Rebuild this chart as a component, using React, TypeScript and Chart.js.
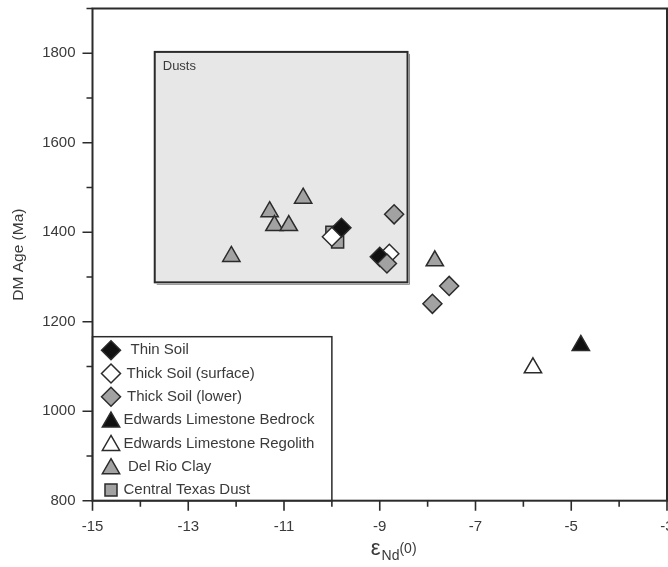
import React, { useEffect, useRef } from 'react';
import { Chart, registerables } from 'chart.js';
import { drawPoint } from 'chart.js/helpers';

Chart.register(...registerables);

// ---- data ----
const thinSoil = [
  { x: -9.8, y: 1410 },
  { x: -9.0, y: 1345 },
];
const thickSoilSurface = [
  { x: -10.0, y: 1390 },
  { x: -8.8, y: 1352 },
];
const thickSoilLower = [
  { x: -8.7, y: 1440 },
  { x: -8.85, y: 1330 },
  { x: -7.55, y: 1280 },
  { x: -7.9, y: 1240 },
];
const edwardsBedrock = [{ x: -4.8, y: 1147 }];
const edwardsRegolith = [{ x: -5.8, y: 1097 }];
const delRioClay = [
  { x: -12.1, y: 1346 },
  { x: -11.3, y: 1446 },
  { x: -11.2, y: 1415 },
  { x: -10.9, y: 1415 },
  { x: -10.6, y: 1476 },
  { x: -7.85, y: 1336 },
];
const centralTexasDust = [
  { x: -10.0, y: 1400 },
  { x: -9.88, y: 1378 },
];

const dustBoxX = [-13.7, -8.42];
const dustBoxY = [1288, 1803];
const dustLabel = 'Dusts';

const xRange = [-15, -3];
const yRange = [800, 1900];
const yTitle = 'DM Age (Ma)';

const FONT = "'Liberation Sans', Arial, Helvetica, sans-serif";
const INK = '#2b2b2b';
const TXT = '#3a3a3a';
const GRAY = '#a2a2a2';

const PLOT_RIGHT = 667;
const PLOT_TOP = 8.5;

type Series = {
  label: string;
  data: { x: number; y: number }[];
  style: string;
  fill: string;
  radius: number;
  orders: number[]; // draw order per point group (lower = on top)
  textOffset: number;
};

const series: Series[] = [
  { label: 'Thin Soil', data: thinSoil, style: 'rectRot', fill: '#111111', radius: 9.5, orders: [2], textOffset: 38 },
  { label: 'Thick Soil (surface)', data: thickSoilSurface, style: 'rectRot', fill: '#ffffff', radius: 9.5, orders: [1, 3], textOffset: 34 },
  { label: 'Thick Soil (lower)', data: thickSoilLower, style: 'rectRot', fill: GRAY, radius: 9.5, orders: [0], textOffset: 34.5 },
  { label: 'Edwards Limestone Bedrock', data: edwardsBedrock, style: 'triangle', fill: '#111111', radius: 10, orders: [5], textOffset: 31 },
  { label: 'Edwards Limestone Regolith', data: edwardsRegolith, style: 'triangle', fill: '#ffffff', radius: 10, orders: [6], textOffset: 31 },
  { label: 'Del Rio Clay', data: delRioClay, style: 'triangle', fill: GRAY, radius: 10, orders: [7], textOffset: 35.5 },
  { label: 'Central Texas Dust', data: centralTexasDust, style: 'rect', fill: GRAY, radius: 8.5, orders: [4], textOffset: 31 },
];

const TICK_FONT = `15px ${FONT}`;

const customPlugin = {
  id: 'customDecor',
  afterLayout(chart: any) {
    const ca = chart.chartArea;
    const x = chart.scales.x;
    const y = chart.scales.y;
    ca.right = PLOT_RIGHT;
    ca.width = ca.right - ca.left;
    ca.top = PLOT_TOP;
    ca.height = ca.bottom - ca.top;
    x.right = PLOT_RIGHT;
    x.width = x.right - x.left;
    x.configure();
    y.top = PLOT_TOP;
    y.height = y.bottom - y.top;
    y.configure();
  },
  beforeDatasetsDraw(chart: any) {
    const { ctx, scales } = chart;
    const x = scales.x;
    const y = scales.y;
    const l = x.getPixelForValue(dustBoxX[0]);
    const r = x.getPixelForValue(dustBoxX[1]);
    const t = y.getPixelForValue(dustBoxY[1]);
    const b = y.getPixelForValue(dustBoxY[0]);
    ctx.save();
    ctx.fillStyle = '#e7e7e7';
    ctx.fillRect(l, t, r - l, b - t);
    ctx.strokeStyle = '#8a8a8a';
    ctx.lineWidth = 1;
    ctx.beginPath();
    ctx.moveTo(l + 2, b + 2);
    ctx.lineTo(r + 2, b + 2);
    ctx.lineTo(r + 2, t + 2);
    ctx.stroke();
    ctx.strokeStyle = INK;
    ctx.lineWidth = 2;
    ctx.strokeRect(l, t, r - l, b - t);
    ctx.fillStyle = TXT;
    ctx.font = `13px ${FONT}`;
    ctx.textBaseline = 'middle';
    ctx.textAlign = 'left';
    ctx.fillText(dustLabel, l + 8, t + 15);
    ctx.restore();
  },
  afterDatasetsDraw(chart: any) {
    const { ctx, chartArea: ca, scales } = chart;
    const x = scales.x;
    const y = scales.y;
    ctx.save();

    // legend box
    const lr = x.getPixelForValue(-10);
    const lt = ca.bottom - 164;
    ctx.fillStyle = '#ffffff';
    ctx.fillRect(ca.left, lt, lr - ca.left, ca.bottom - lt);
    ctx.strokeStyle = INK;
    ctx.lineWidth = 1.5;
    ctx.strokeRect(ca.left, lt, lr - ca.left, ca.bottom - lt);
    series.forEach((s, i) => {
      const rowY = ca.bottom - 10.7 - (series.length - 1 - i) * 23.3;
      ctx.fillStyle = s.fill;
      ctx.strokeStyle = INK;
      ctx.lineWidth = 1.5;
      drawPoint(ctx, { pointStyle: s.style, radius: s.radius, rotation: 0, borderWidth: 1.5 } as any, ca.left + 18.5, rowY + (s.style === 'triangle' ? 2 : 0));
      ctx.fillStyle = TXT;
      ctx.font = `15px ${FONT}`;
      ctx.textBaseline = 'middle';
      ctx.textAlign = 'left';
      ctx.fillText(s.label, ca.left + s.textOffset, rowY);
    });

    // frame
    ctx.strokeStyle = INK;
    ctx.lineWidth = 2;
    ctx.strokeRect(ca.left, ca.top, ca.right - ca.left, ca.bottom - ca.top);

    // ticks
    ctx.lineWidth = 1.6;
    ctx.beginPath();
    for (let v = xRange[0]; v <= xRange[1]; v += 1) {
      const px = x.getPixelForValue(v);
      const len = Math.abs(v % 2) === 1 ? 10 : 6;
      ctx.moveTo(px, ca.bottom);
      ctx.lineTo(px, ca.bottom + len);
    }
    for (let v = yRange[0]; v <= yRange[1]; v += 100) {
      const py = y.getPixelForValue(v);
      const len = v % 200 === 0 ? 10 : 6;
      ctx.moveTo(ca.left, py);
      ctx.lineTo(ca.left - len, py);
    }
    ctx.stroke();

    // last x tick label (clipped by the canvas edge, as in the original)
    ctx.fillStyle = TXT;
    ctx.font = TICK_FONT;
    ctx.textAlign = 'center';
    ctx.textBaseline = 'middle';
    ctx.fillText(String(xRange[1]), x.getPixelForValue(xRange[1]), ca.bottom + 26);

    // x axis title: epsilon Nd(0)
    const cx = (ca.left + ca.right) / 2;
    let px = cx - 9;
    const base = ca.bottom + 54;
    ctx.textAlign = 'left';
    ctx.textBaseline = 'alphabetic';
    ctx.font = `22px ${FONT}`;
    ctx.fillText('ε', px, base);
    px += ctx.measureText('ε').width + 1;
    ctx.font = `14px ${FONT}`;
    ctx.fillText('Nd', px, base + 5);
    px += ctx.measureText('Nd').width;
    ctx.fillText('(0)', px, base - 2);

    ctx.restore();
  },
};

function buildDatasets() {
  const out: any[] = [];
  series.forEach((s) => {
    const groups: { x: number; y: number }[][] =
      s.orders.length === 1 ? [s.data] : s.data.map((p) => [p]);
    groups.forEach((g, gi) => {
      out.push({
        label: s.label,
        data: g,
        pointStyle: s.style as any,
        pointRadius: s.radius,
        pointHoverRadius: s.radius,
        pointBackgroundColor: s.fill,
        pointBorderColor: INK,
        pointBorderWidth: 1.5,
        order: s.orders[Math.min(gi, s.orders.length - 1)],
        showLine: false,
      });
    });
  });
  return out;
}

export default function App() {
  const ref = useRef<HTMLCanvasElement | null>(null);

  useEffect(() => {
    document.body.style.margin = '0';
    const canvas = ref.current;
    if (!canvas) return;
    const chart = new Chart(canvas, {
      type: 'scatter',
      data: { datasets: buildDatasets() },
      options: {
        animation: false,
        responsive: false,
        devicePixelRatio: 1,
        layout: { padding: { top: 7, right: 2, left: 0, bottom: 0 } },
        plugins: {
          legend: { display: false },
          tooltip: { enabled: false },
        },
        scales: {
          x: {
            type: 'linear',
            min: xRange[0],
            max: xRange[1],
            afterFit: (s: any) => {
              s.height = 66.3;
              s.paddingLeft = 0;
              s.paddingRight = 0;
            },
            border: { display: false },
            grid: { display: true, drawOnChartArea: false, drawTicks: true, tickLength: 10, tickColor: 'transparent' },
            ticks: {
              stepSize: 1,
              autoSkip: false,
              maxRotation: 0,
              padding: 7,
              color: TXT,
              font: { size: 15, family: FONT },
              callback: (v: any) => {
                const n = Number(v);
                return Math.abs(n % 2) === 1 && n !== xRange[1] ? String(v) : '';
              },
            },
          },
          y: {
            type: 'linear',
            min: yRange[0],
            max: yRange[1],
            afterFit: (s: any) => {
              s.width = 92.5;
              s.paddingTop = 0;
              s.paddingBottom = 0;
            },
            border: { display: false },
            grid: { display: true, drawOnChartArea: false, drawTicks: true, tickLength: 10, tickColor: 'transparent' },
            title: {
              display: true,
              text: yTitle,
              color: TXT,
              font: { size: 15.5, family: FONT },
              padding: { top: 9, bottom: 0 },
            },
            ticks: {
              stepSize: 100,
              autoSkip: false,
              padding: 7,
              color: TXT,
              font: { size: 15, family: FONT },
              callback: (v: any) => (Number(v) % 200 === 0 ? String(v) : ''),
            },
          },
        },
      } as any,
      plugins: [customPlugin],
    });
    return () => chart.destroy();
  }, []);

  return (
    <div style={{ width: 668, height: 567, position: 'relative' }}>
      <canvas ref={ref} width={668} height={567} style={{ display: 'block' }} />
    </div>
  );
}
